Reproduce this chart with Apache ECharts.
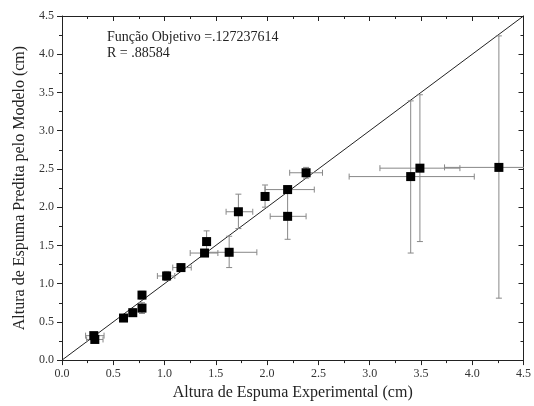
<!DOCTYPE html>
<html><head><meta charset="utf-8">
<script src="https://cdn.jsdelivr.net/npm/echarts@6/dist/echarts.min.js"></script>
<style>html,body{margin:0;padding:0;background:#fff}#c{width:534px;height:406px}</style>
</head><body><div id="c"></div>
<script>
const xVals = [0.31,0.32,0.60,0.69,0.78,0.78,1.02,1.16,1.39,1.41,1.63,1.72,1.98,2.20,2.20,2.38,3.40,3.49,4.26];
const yVals = [0.32,0.27,0.55,0.62,0.68,0.85,1.10,1.21,1.40,1.55,1.41,1.94,2.14,2.23,1.88,2.45,2.40,2.51,2.52];
const xLow  = [0.23,0.24,0.57,0.66,0.75,0.75,0.93,1.08,1.25,1.38,1.36,1.60,1.95,1.98,2.03,2.22,2.80,3.10,3.73];
const xHigh = [0.41,0.40,0.63,0.72,0.81,0.81,1.10,1.26,1.52,1.44,1.90,1.86,2.01,2.46,2.38,2.54,4.02,3.88,4.79];
const yLow  = [0.28,0.23,0.52,0.58,0.61,0.80,1.04,1.18,1.36,1.41,1.21,1.72,2.00,2.18,1.58,2.38,1.40,1.55,0.81];
const yHigh = [0.36,0.31,0.58,0.67,0.75,0.90,1.16,1.24,1.44,1.69,1.62,2.17,2.29,2.28,2.18,2.52,3.39,3.47,4.24];
const ticks = [0,0.5,1.0,1.5,2.0,2.5,3.0,3.5,4.0,4.5];
const fitLine = [[0,0],[4.5,4.5]];
const xTitle = 'Altura de Espuma Experimental (cm)';
const yTitle = 'Altura de Espuma Predita pelo Modelo (cm)';
const note1 = 'Função Objetivo =.127237614';
const note2 = 'R = .88584';

const font = '"Liberation Serif","DejaVu Serif",serif';
const pts = xVals.map((x,i)=>[x,yVals[i]]);
const errs = xVals.map((x,i)=>[x,yVals[i],xLow[i],xHigh[i],yLow[i],yHigh[i]]);
const axMin = ticks[0], axMax = ticks[ticks.length-1], axInt = ticks[1]-ticks[0];

function baseAxis(extra){
  return Object.assign({
    type:'value', min:axMin, max:axMax, interval:axInt,
    axisLine:{show:true,onZero:false,lineStyle:{color:'#222',width:1}},
    axisTick:{show:true,length:5,lineStyle:{color:'#222'}},
    minorTick:{show:true,splitNumber:2,length:3,lineStyle:{color:'#222'}},
    splitLine:{show:false},
    axisLabel:{fontFamily:font,fontSize:12,color:'#333',formatter:v=>v.toFixed(1)}
  }, extra);
}

const chart = echarts.init(document.getElementById('c'));
chart.setOption({
  animation:false,
  grid:{left:62,right:10,top:16,bottom:44,containLabel:false},
  xAxis:[
    baseAxis({position:'bottom',name:xTitle,nameLocation:'middle',nameGap:21,
      nameTextStyle:{fontFamily:font,fontSize:16,color:'#222'}}),
    baseAxis({position:'top',axisLabel:{show:false},axisTick:{show:true,inside:true,length:5,lineStyle:{color:'#222'}}})
  ],
  yAxis:[
    baseAxis({position:'left',name:yTitle,nameLocation:'middle',nameGap:34,
      nameTextStyle:{fontFamily:font,fontSize:16,color:'#222'}}),
    baseAxis({position:'right',axisLabel:{show:false},axisTick:{show:true,inside:true,length:5,lineStyle:{color:'#222'}}})
  ],
  graphic:[
    {type:'text',left:107,top:30,style:{text:note1,font:'14px '+font,fill:'#222'}},
    {type:'text',left:107,top:46,style:{text:note2,font:'14px '+font,fill:'#222'}}
  ],
  series:[
    {type:'line',data:fitLine,symbol:'none',lineStyle:{color:'#222',width:1},z:2},
    {type:'custom',data:errs,clip:true,z:3,
      renderItem:function(params,api){
        const x=api.value(0), y=api.value(1);
        const l=api.coord([api.value(2),y]), r=api.coord([api.value(3),y]);
        const b=api.coord([x,api.value(4)]), t=api.coord([x,api.value(5)]);
        const c=3, st={stroke:'#888',lineWidth:1};
        const mk=(x1,y1,x2,y2)=>({type:'line',shape:{x1,y1,x2,y2},style:st});
        return {type:'group',children:[
          mk(l[0],l[1],r[0],r[1]), mk(l[0],l[1]-c,l[0],l[1]+c), mk(r[0],r[1]-c,r[0],r[1]+c),
          mk(b[0],b[1],t[0],t[1]), mk(b[0]-c,b[1],b[0]+c,b[1]), mk(t[0]-c,t[1],t[0]+c,t[1])
        ]};
      }},
    {type:'scatter',data:pts,symbol:'rect',symbolSize:9,itemStyle:{color:'#000',opacity:1},z:4}
  ]
});
</script></body></html>
